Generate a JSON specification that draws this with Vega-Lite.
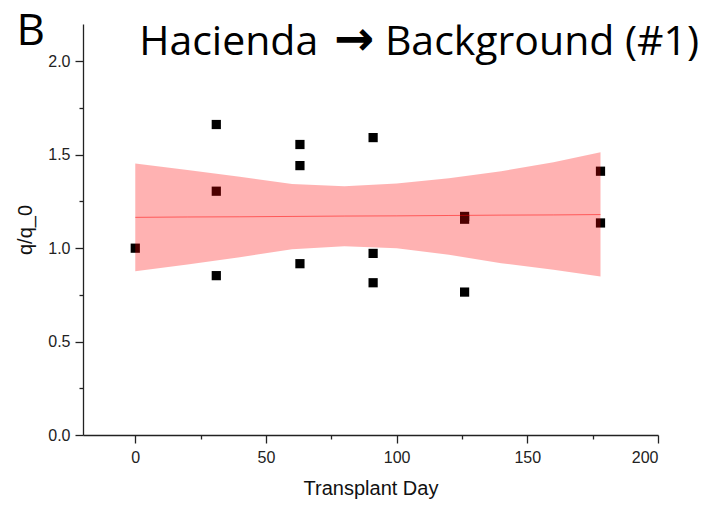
{
  "$schema": "https://vega.github.io/schema/vega-lite/v6.json",
  "autosize": {"type": "none"},
  "width": 575,
  "height": 411,
  "padding": {"left": 83, "top": 24, "right": 52, "bottom": 70},
  "background": "white",
  "config": {
    "view": {"stroke": null},
    "axis": {
      "grid": false,
      "domainColor": "#222",
      "tickColor": "#222",
      "labelColor": "#222",
      "titleColor": "#111",
      "labelFont": "Liberation Sans",
      "titleFont": "Liberation Sans",
      "labelFontSize": 16,
      "titleFontSize": 20,
      "titleFontWeight": "normal",
      "domainWidth": 1.3,
      "tickWidth": 1.3
    }
  },
  "datasets": {
    "pts": [
      {"day": 0, "q": 1.0},
      {"day": 31, "q": 1.662},
      {"day": 31, "q": 1.305},
      {"day": 31, "q": 0.853},
      {"day": 63, "q": 1.555},
      {"day": 63, "q": 1.442},
      {"day": 63, "q": 0.917},
      {"day": 91, "q": 1.592},
      {"day": 91, "q": 0.972},
      {"day": 91, "q": 0.815},
      {"day": 126, "q": 1.17},
      {"day": 126, "q": 1.155},
      {"day": 126, "q": 0.765},
      {"day": 178, "q": 1.412},
      {"day": 178, "q": 1.135}
    ],
    "band": [
      {"day": 0, "lo": 0.876, "hi": 1.453, "fit": 1.165},
      {"day": 20, "lo": 0.912, "hi": 1.418, "fit": 1.167},
      {"day": 40, "lo": 0.952, "hi": 1.383, "fit": 1.168},
      {"day": 60, "lo": 0.994, "hi": 1.343, "fit": 1.17},
      {"day": 80, "lo": 1.01, "hi": 1.331, "fit": 1.172},
      {"day": 100, "lo": 1.0, "hi": 1.346, "fit": 1.173},
      {"day": 120, "lo": 0.965, "hi": 1.375, "fit": 1.175},
      {"day": 140, "lo": 0.92, "hi": 1.412, "fit": 1.177},
      {"day": 160, "lo": 0.885, "hi": 1.46, "fit": 1.178},
      {"day": 178, "lo": 0.849, "hi": 1.514, "fit": 1.18}
    ],
    "labels": [
      {"txt": "B", "lx": -40, "ly": 2.09, "kind": "panel"},
      {"txt": "Hacienda", "lx": 1.5, "ly": 2.034, "kind": "title"},
      {"txt": "→", "lx": 83.7, "ly": 2.034, "kind": "arrow"},
      {"txt": "Background (#1)", "lx": 95.5, "ly": 2.034, "kind": "title"}
    ]
  },
  "layer": [
    {
      "data": {"name": "pts"},
      "mark": {"type": "point", "shape": "square", "filled": true, "color": "black", "opacity": 1, "size": 85},
      "encoding": {
        "x": {
          "field": "day", "type": "quantitative",
          "scale": {"domain": [-20, 200], "nice": false, "zero": false},
          "axis": {
            "title": "Transplant Day",
            "values": [0, 25, 50, 75, 100, 125, 150, 175, 200],
            "labelExpr": "datum.value % 50 === 0 ? datum.label : ''",
            "tickSize": {"condition": {"test": "datum.value % 50 === 0", "value": 8}, "value": 4},
            "labelPadding": 6,
            "titlePadding": 13
          }
        },
        "y": {
          "field": "q", "type": "quantitative",
          "scale": {"domain": [0, 2.2], "nice": false, "zero": true},
          "axis": {
            "title": "q/q_0",
            "values": [0, 0.25, 0.5, 0.75, 1.0, 1.25, 1.5, 1.75, 2.0],
            "format": ".1f",
            "labelExpr": "datum.value % 0.5 === 0 ? datum.label : ''",
            "tickSize": {"condition": {"test": "datum.value % 0.5 === 0", "value": 8}, "value": 4},
            "labelPadding": 5,
            "titlePadding": 12
          }
        }
      }
    },
    {
      "data": {"name": "band"},
      "mark": {"type": "area", "color": "#ff0000", "opacity": 0.3},
      "encoding": {
        "x": {"field": "day", "type": "quantitative"},
        "y": {"field": "lo", "type": "quantitative"},
        "y2": {"field": "hi"}
      }
    },
    {
      "data": {"name": "band"},
      "mark": {"type": "line", "color": "#ff0000", "opacity": 0.5, "strokeWidth": 1},
      "encoding": {
        "x": {"field": "day", "type": "quantitative"},
        "y": {"field": "fit", "type": "quantitative"}
      }
    },
    {
      "data": {"name": "labels"},
      "transform": [{"filter": "datum.kind === 'panel'"}],
      "mark": {"type": "text", "font": "Open Sans", "fontSize": 44, "color": "black", "baseline": "alphabetic", "align": "center", "clip": false},
      "encoding": {
        "text": {"field": "txt"},
        "x": {"field": "lx", "type": "quantitative"},
        "y": {"field": "ly", "type": "quantitative"}
      }
    },
    {
      "data": {"name": "labels"},
      "transform": [{"filter": "datum.kind === 'title'"}],
      "mark": {"type": "text", "font": "Open Sans", "fontSize": 41, "color": "black", "baseline": "alphabetic", "align": "left", "clip": false},
      "encoding": {
        "text": {"field": "txt"},
        "x": {"field": "lx", "type": "quantitative"},
        "y": {"field": "ly", "type": "quantitative"}
      }
    },
    {
      "data": {"name": "labels"},
      "transform": [{"filter": "datum.kind === 'arrow'"}],
      "mark": {"type": "text", "font": "DejaVu Sans", "fontWeight": "bold", "fontSize": 48, "color": "black", "baseline": "alphabetic", "align": "center", "clip": false},
      "encoding": {
        "text": {"field": "txt"},
        "x": {"field": "lx", "type": "quantitative"},
        "y": {"field": "ly", "type": "quantitative"}
      }
    }
  ]
}
